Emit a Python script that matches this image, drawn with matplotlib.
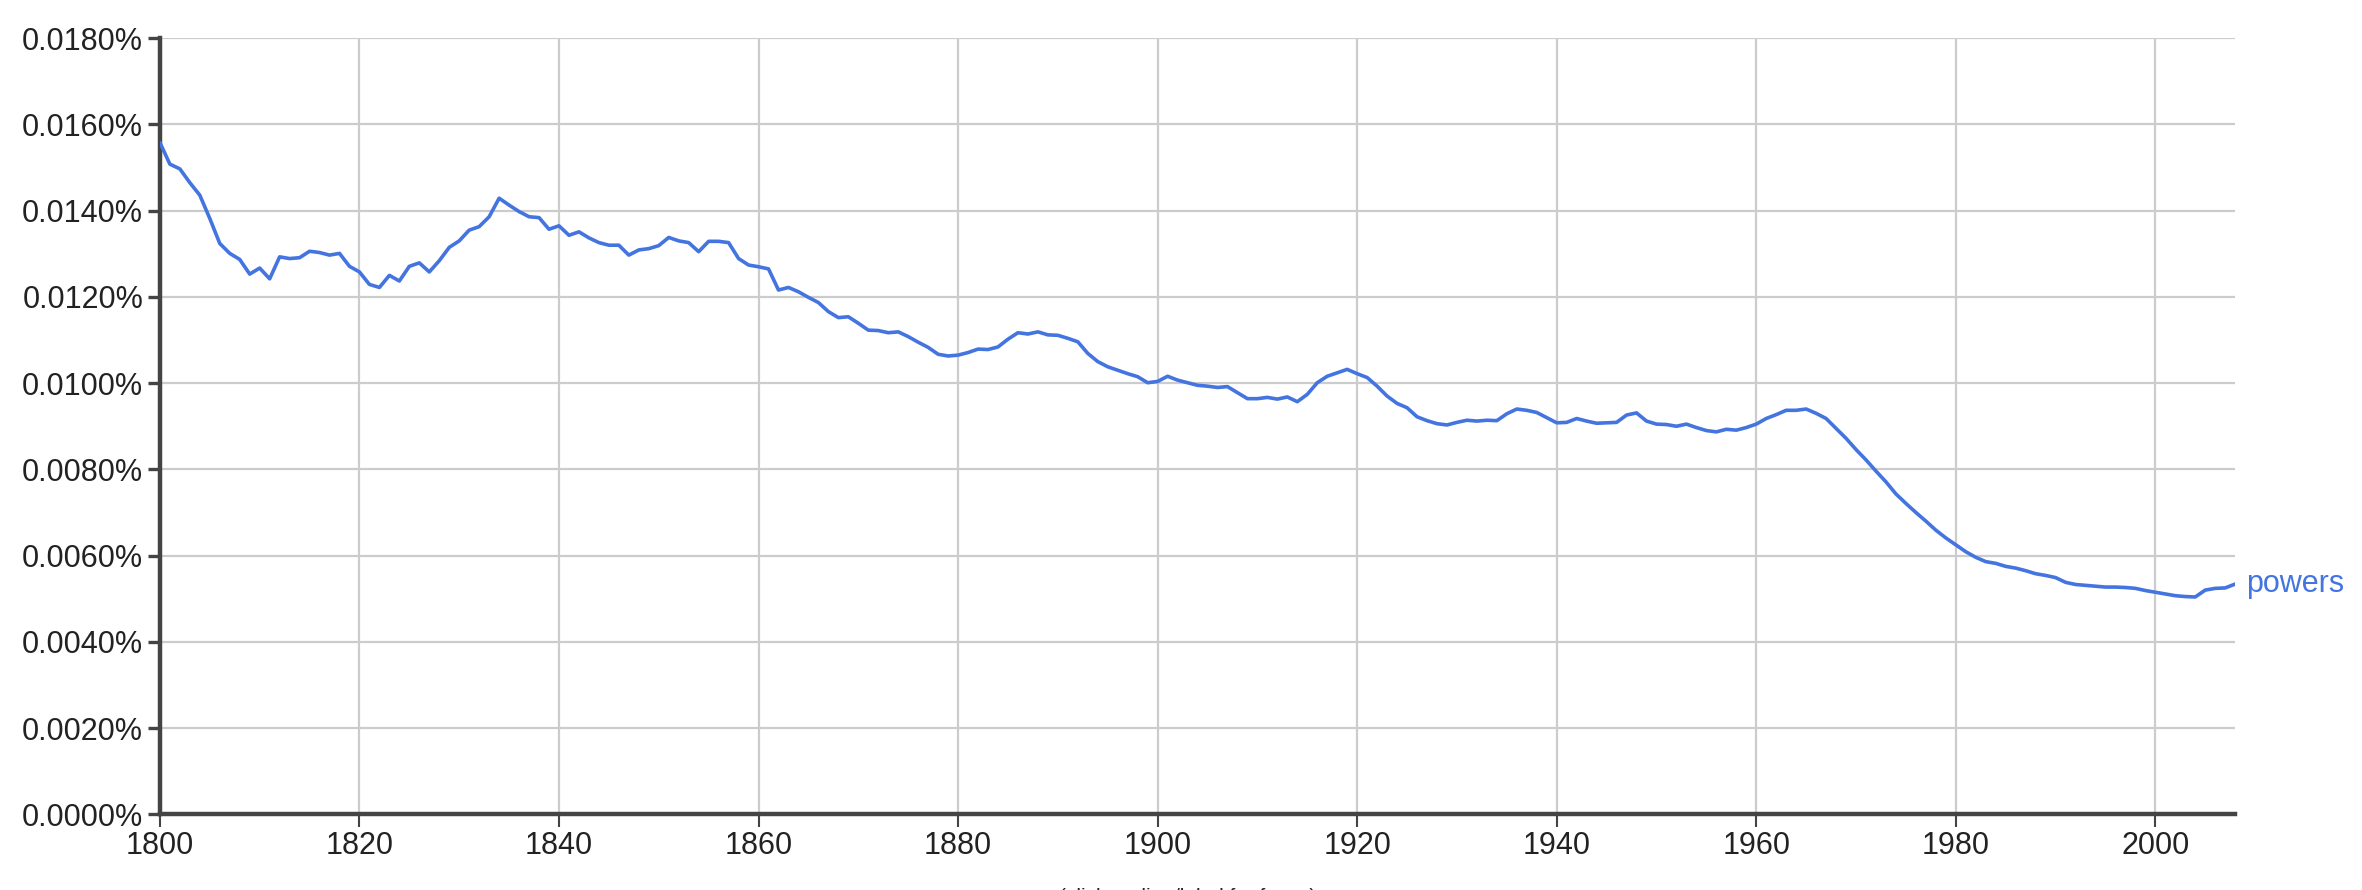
import matplotlib
matplotlib.use("Agg")
import matplotlib.pyplot as plt
from matplotlib.ticker import FuncFormatter, MultipleLocator

plt.rcParams['font.family'] = ['Liberation Sans', 'DejaVu Sans']

# yearly frequency of "powers", in percent
years = list(range(1800, 2009))
powers = [
    0.01558, 0.01508, 0.01497, 0.01465, 0.01436, 0.01382, 0.01324, 0.01301, 0.01287, 0.01253,
    0.01267, 0.01242, 0.01293, 0.01289, 0.01291, 0.01306, 0.01303, 0.01297, 0.01301, 0.01271,
    0.01258, 0.01229, 0.01222, 0.01250, 0.01237, 0.01271, 0.01279, 0.01258, 0.01284, 0.01315,
    0.01330, 0.01355, 0.01363, 0.01386, 0.01429, 0.01413, 0.01398, 0.01386, 0.01384, 0.01357,
    0.01365, 0.01343, 0.01351, 0.01337, 0.01326, 0.01320, 0.01320, 0.01297, 0.01309, 0.01312,
    0.01319, 0.01338, 0.01330, 0.01326, 0.01305, 0.01329, 0.01329, 0.01326, 0.01289, 0.01274,
    0.01270, 0.01265, 0.01216, 0.01222, 0.01212, 0.01199, 0.01187, 0.01166, 0.01152, 0.01154,
    0.01139, 0.01123, 0.01122, 0.01117, 0.01119, 0.01108, 0.01095, 0.01083, 0.01067, 0.01063,
    0.01065, 0.01071, 0.01079, 0.01078, 0.01084, 0.01102, 0.01117, 0.01114, 0.01119, 0.01112,
    0.01111, 0.01104, 0.01096, 0.01069, 0.01050, 0.01038, 0.01030, 0.01022, 0.01015, 0.01001,
    0.01004, 0.01016, 0.01007, 0.01001, 0.00995, 0.00993, 0.00990, 0.00992, 0.00978, 0.00964,
    0.00964, 0.00967, 0.00963, 0.00968, 0.00957, 0.00974, 0.01001, 0.01016, 0.01024, 0.01032,
    0.01022, 0.01013, 0.00993, 0.00970, 0.00953, 0.00943, 0.00922, 0.00913, 0.00906, 0.00903,
    0.00909, 0.00914, 0.00912, 0.00914, 0.00913, 0.00929, 0.00940, 0.00937, 0.00932, 0.00920,
    0.00908, 0.00909, 0.00918, 0.00912, 0.00907, 0.00908, 0.00909, 0.00926, 0.00931, 0.00912,
    0.00905, 0.00904, 0.00900, 0.00905, 0.00897, 0.00890, 0.00887, 0.00893, 0.00891, 0.00897,
    0.00905, 0.00918, 0.00927, 0.00937, 0.00937, 0.00940, 0.00930, 0.00918, 0.00895, 0.00872,
    0.00846, 0.00822, 0.00796, 0.00771, 0.00743, 0.00721, 0.00700, 0.00680, 0.00659, 0.00641,
    0.00625, 0.00609, 0.00596, 0.00586, 0.00582, 0.00575, 0.00571, 0.00565, 0.00558, 0.00554,
    0.00549, 0.00538, 0.00533, 0.00531, 0.00529, 0.00527, 0.00527, 0.00526, 0.00524, 0.00519,
    0.00515, 0.00511, 0.00507, 0.00505, 0.00504, 0.00520, 0.00524, 0.00525, 0.00534,
]
label = "powers"

line_color = "#4374E0"
axis_color = "#444444"
grid_color = "#cccccc"
text_color = "#222222"

fig = plt.figure(figsize=(23.62, 8.90), dpi=100)
ax = fig.add_axes([0.0677, 0.0851, 0.8786, 0.8719])

ax.plot(years, powers, color=line_color, linewidth=2.6, solid_joinstyle="round",
        solid_capstyle="round", zorder=3)
ax.text(years[-1] + 1.1, powers[-1], label, color=line_color, fontsize=22,
        va="center", ha="left")

ax.set_xlim(1800, 2008)
ax.set_ylim(0, 0.018)
ax.xaxis.set_major_locator(MultipleLocator(20))
ax.yaxis.set_major_locator(MultipleLocator(0.002))
ax.yaxis.set_major_formatter(FuncFormatter(lambda v, p: f"{v:.4f}%"))

ax.grid(True, color=grid_color, linewidth=1.6, zorder=0)
ax.set_axisbelow(True)

for side in ("top", "right"):
    ax.spines[side].set_visible(False)
for side in ("left", "bottom"):
    ax.spines[side].set_color(axis_color)
    ax.spines[side].set_linewidth(3.2)

ax.tick_params(axis="y", direction="out", length=9, width=2.4, color=axis_color,
               labelsize=22, labelcolor=text_color, pad=3)
ax.tick_params(axis="x", direction="out", length=9, width=1.5, color=axis_color,
               labelsize=22, labelcolor=text_color, pad=3)

# caption under the chart, cut off by the bottom edge as in the screenshot
fig.text(0.503, 0.0025, "(click on line/label for focus)", ha="center", va="top",
         fontsize=15, color=text_color)

fig.savefig("out.png", dpi=100)
